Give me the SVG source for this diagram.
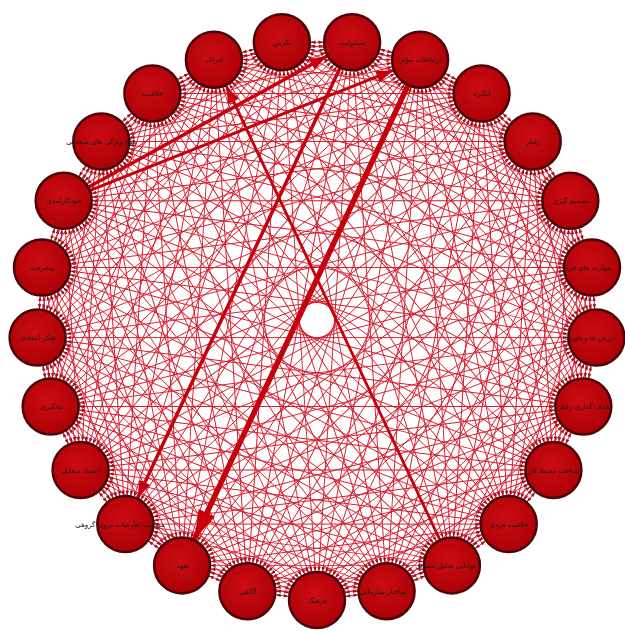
<svg xmlns="http://www.w3.org/2000/svg" xmlns:xlink="http://www.w3.org/1999/xlink" width="625" height="632" viewBox="0 0 625 632">
<defs>
<style>
.e{stroke:#d41a2c;stroke-width:0.9;fill:none;marker-start:url(#ma);marker-end:url(#ma)}
.t{stroke:#c4000c;fill:none}
.n circle{fill:url(#g);stroke:#4a0606;stroke-width:2.5}
.n text{font-family:"DejaVu Sans",sans-serif;font-size:7px;fill:#1a1a1a;text-anchor:middle}
</style>
<radialGradient id="g" cx="45%" cy="40%" r="65%"><stop offset="0" stop-color="#cc0c12"/><stop offset="1" stop-color="#a90006"/></radialGradient>
<marker id="ma" markerUnits="userSpaceOnUse" orient="auto-start-reverse" markerWidth="80" markerHeight="80" refX="0" refY="0" viewBox="-40 -40 80 80" overflow="visible"><path d="M-33.5,-1.7 L-28.5,0 L-33.5,1.7 z" fill="#a0101e"/></marker>
<marker id="mb" markerUnits="userSpaceOnUse" orient="auto" markerWidth="140" markerHeight="140" refX="0" refY="0" viewBox="-70 -70 140 140" overflow="visible"><path d="M-58,-9 L-29,0 L-58,9 z" fill="#c4000c"/></marker>
<marker id="mc" markerUnits="userSpaceOnUse" orient="auto" markerWidth="120" markerHeight="120" refX="0" refY="0" viewBox="-60 -60 120 120" overflow="visible"><path d="M-46,-6 L-29,0 L-46,6 z" fill="#c4000c"/></marker>
<g id="ch" class="e">
<line x1="317" y1="600" x2="247.4" y2="591.2"/>
<line x1="317" y1="600" x2="182.1" y2="565.4"/>
<line x1="317" y1="600" x2="125.3" y2="524.1"/>
<line x1="317" y1="600" x2="80.6" y2="470.0"/>
<line x1="317" y1="600" x2="50.7" y2="406.5"/>
<line x1="317" y1="600" x2="37.6" y2="337.6"/>
<line x1="317" y1="600" x2="42.0" y2="267.5"/>
<line x1="317" y1="600" x2="63.7" y2="200.8"/>
<line x1="317" y1="600" x2="101.3" y2="141.5"/>
<line x1="317" y1="600" x2="152.4" y2="93.5"/>
<line x1="317" y1="600" x2="213.9" y2="59.7"/>
<line x1="317" y1="600" x2="281.9" y2="42.2"/>
</g>
</defs>
<rect width="625" height="632" fill="#ffffff"/>
<g id="connectors">
<use href="#ch" transform="rotate(0 317 320)"/>
<use href="#ch" transform="rotate(14.4 317 320)"/>
<use href="#ch" transform="rotate(28.8 317 320)"/>
<use href="#ch" transform="rotate(43.2 317 320)"/>
<use href="#ch" transform="rotate(57.6 317 320)"/>
<use href="#ch" transform="rotate(72 317 320)"/>
<use href="#ch" transform="rotate(86.4 317 320)"/>
<use href="#ch" transform="rotate(100.8 317 320)"/>
<use href="#ch" transform="rotate(115.2 317 320)"/>
<use href="#ch" transform="rotate(129.6 317 320)"/>
<use href="#ch" transform="rotate(144 317 320)"/>
<use href="#ch" transform="rotate(158.4 317 320)"/>
<use href="#ch" transform="rotate(172.8 317 320)"/>
<use href="#ch" transform="rotate(187.2 317 320)"/>
<use href="#ch" transform="rotate(201.6 317 320)"/>
<use href="#ch" transform="rotate(216 317 320)"/>
<use href="#ch" transform="rotate(230.4 317 320)"/>
<use href="#ch" transform="rotate(244.8 317 320)"/>
<use href="#ch" transform="rotate(259.2 317 320)"/>
<use href="#ch" transform="rotate(273.6 317 320)"/>
<use href="#ch" transform="rotate(288 317 320)"/>
<use href="#ch" transform="rotate(302.4 317 320)"/>
<use href="#ch" transform="rotate(316.8 317 320)"/>
<use href="#ch" transform="rotate(331.2 317 320)"/>
<use href="#ch" transform="rotate(345.6 317 320)"/>
<line class="t" x1="420.1" y1="59.7" x2="182.1" y2="565.4" stroke-width="5.5" marker-end="url(#mb)"/>
<line class="t" x1="451.9" y1="565.4" x2="213.9" y2="59.7" stroke-width="2.8" marker-end="url(#mc)"/>
<line class="t" x1="352.1" y1="42.2" x2="125.3" y2="524.1" stroke-width="3.5" marker-end="url(#mc)"/>
<line class="t" x1="63.7" y1="200.8" x2="352.1" y2="42.2" stroke-width="3.5" marker-end="url(#mc)"/>
<line class="t" x1="63.7" y1="200.8" x2="420.1" y2="59.7" stroke-width="3" marker-end="url(#mc)"/>
</g>
<g id="n1" class="n"><circle cx="281.9" cy="42.2" r="28"/><text x="281.9" y="44.7">نگرش</text></g>
<g id="n2" class="n"><circle cx="352.1" cy="42.2" r="28"/><text x="352.1" y="44.7">مسئولیت</text></g>
<g id="n3" class="n"><circle cx="420.1" cy="59.7" r="28"/><text x="420.1" y="62.2">ارتباطات مؤثر</text></g>
<g id="n4" class="n"><circle cx="481.6" cy="93.5" r="28"/><text x="481.6" y="96">انگیزه</text></g>
<g id="n5" class="n"><circle cx="532.7" cy="141.5" r="28"/><text x="532.7" y="144">رفتار</text></g>
<g id="n6" class="n"><circle cx="570.3" cy="200.8" r="28"/><text x="570.3" y="203.3">تصمیم گیری</text></g>
<g id="n7" class="n"><circle cx="592.0" cy="267.5" r="28"/><text x="585" y="270">مهارت های فردی</text></g>
<g id="n8" class="n"><circle cx="596.4" cy="337.6" r="28"/><text x="590" y="340.1">ارزش ها و باورها</text></g>
<g id="n9" class="n"><circle cx="583.3" cy="406.5" r="28"/><text x="583.3" y="409">هدف گذاری رفتار</text></g>
<g id="n10" class="n"><circle cx="553.4" cy="470.0" r="28"/><text x="553.4" y="472.5">شناخت محیط کار</text></g>
<g id="n11" class="n"><circle cx="508.7" cy="524.1" r="28"/><text x="508.7" y="526.6">خلاقیت فردی</text></g>
<g id="n12" class="n"><circle cx="451.9" cy="565.4" r="28"/><text x="445" y="567.9">توانایی تحلیل مسائل</text></g>
<g id="n13" class="n"><circle cx="386.6" cy="591.2" r="28"/><text x="383" y="593.7">ساختار سازمانی</text></g>
<g id="n14" class="n"><circle cx="317" cy="600" r="28"/><text x="317" y="602.5">فرهنگ</text></g>
<g id="n15" class="n"><circle cx="247.4" cy="591.2" r="28"/><text x="247.4" y="593.7">آگاهی</text></g>
<g id="n16" class="n"><circle cx="182.1" cy="565.4" r="28"/><text x="182.1" y="567.9">تعهد</text></g>
<g id="n17" class="n"><circle cx="125.3" cy="524.1" r="28"/><text x="120" y="526.6">مدیریت تعارضات درون گروهی</text></g>
<g id="n18" class="n"><circle cx="80.6" cy="470.0" r="28"/><text x="80.6" y="472.5">اعتماد متقابل</text></g>
<g id="n19" class="n"><circle cx="50.7" cy="406.5" r="28"/><text x="50.7" y="409">یادگیری</text></g>
<g id="n20" class="n"><circle cx="37.6" cy="337.6" r="28"/><text x="37.6" y="340.1">تفکر انتقادی</text></g>
<g id="n21" class="n"><circle cx="42.0" cy="267.5" r="28"/><text x="42" y="270">پیشرفت</text></g>
<g id="n22" class="n"><circle cx="63.7" cy="200.8" r="28"/><text x="63.7" y="203.3">خودکارآمدی</text></g>
<g id="n23" class="n"><circle cx="101.3" cy="141.5" r="28"/><text x="101.3" y="144">بلوغ ویژگی های شخصی</text></g>
<g id="n24" class="n"><circle cx="152.4" cy="93.5" r="28"/><text x="152.4" y="96">خلاقیت</text></g>
<g id="n25" class="n"><circle cx="213.9" cy="59.7" r="28"/><text x="213.9" y="62.2">ادراک</text></g>
</svg>
